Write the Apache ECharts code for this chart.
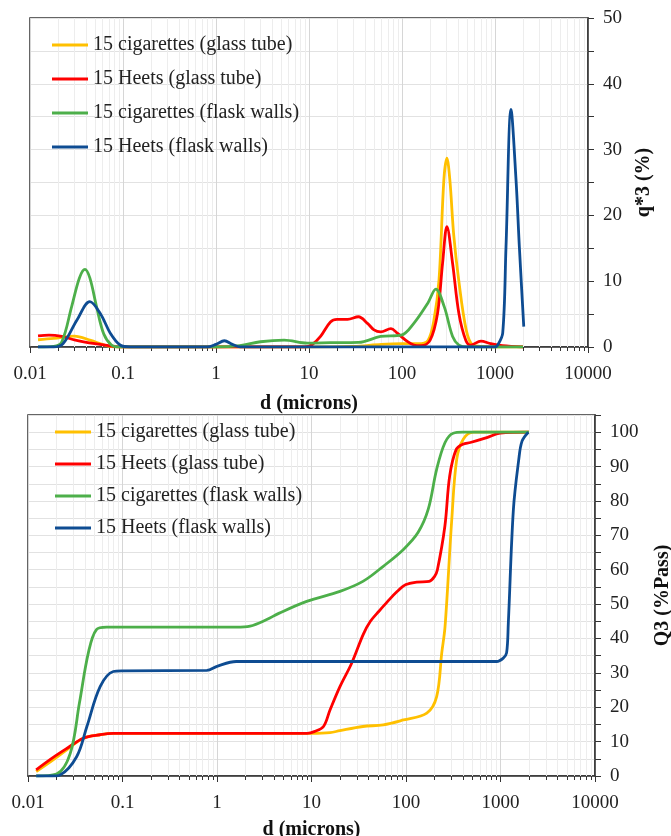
<!DOCTYPE html>
<html>
<head>
<meta charset="utf-8">
<script src="https://cdn.jsdelivr.net/npm/echarts@6/dist/echarts.min.js"></script>
<style>
  html, body { margin: 0; padding: 0; background: #fff; }
  #chart { width: 671px; height: 836px; }
</style>
</head>
<body>
<div id="chart"></div>
<script>
// series names + colours
var seriesNames = [
  "15 cigarettes (glass tube)",
  "15 Heets (glass tube)",
  "15 cigarettes (flask walls)",
  "15 Heets (flask walls)"
];
var seriesColors = ["#FFC000", "#FF0000", "#4DAF4A", "#0E4C92"];

// top chart: q*3 (%) vs d (microns)
var cigGlassDens = [
  [0.0122, 1.1], [0.018, 1.3], [0.03, 1.65], [0.045, 1.0], [0.06, 0.4], [0.075, 0.05], [0.1, 0],
  [1, 0], [10, 0], [30, 0.1], [60, 0.4], [100, 0.5], [150, 0.5], [190, 1.0], [220, 4],
  [250, 10.2], [282, 25.4], [304, 28.7], [327, 25.4], [360, 17], [407, 10.2], [490, 2.6],
  [575, 0.3], [700, 0.1], [1000, 0], [2000, 0]
];
var heetsGlassDens = [
  [0.0122, 1.7], [0.016, 1.8], [0.022, 1.6], [0.03, 1.1], [0.05, 0.5], [0.07, 0.2], [0.1, 0],
  [1, 0], [9, 0], [10.7, 0.3], [13.3, 1.6], [17, 3.8], [20, 4.2], [26, 4.2], [34, 4.6],
  [42.5, 3.6], [50, 2.6], [59, 2.3], [76, 2.8], [89, 2.1], [115, 0.8], [134, 0.3], [160, 0.2],
  [200, 1.0], [241, 5.1], [273, 12.7], [304, 18.3], [350, 12.7], [409, 5.1], [486, 1.0],
  [550, 0.3], [705, 0.9], [900, 0.5], [1200, 0.2], [2000, 0]
];
var cigFlaskDens = [
  [0.0122, 0], [0.018, 0.1], [0.022, 0.8], [0.028, 6.1], [0.034, 10.5], [0.039, 11.8],
  [0.044, 10.5], [0.052, 6.1], [0.062, 2.0], [0.075, 0.3], [0.09, 0], [1, 0], [1.8, 0.2],
  [3, 0.8], [5.4, 1.05], [9.6, 0.6], [17, 0.65], [34, 0.7], [59, 1.6], [98, 1.8], [134, 3.6],
  [190, 6.7], [231, 8.8], [285, 6.1], [350, 1.6], [409, 0.3], [500, 0], [2000, 0]
];
var heetsFlaskDens = [
  [0.0122, 0], [0.018, 0], [0.0227, 0.5], [0.032, 4.1], [0.044, 6.9], [0.057, 5.1],
  [0.073, 2.1], [0.093, 0.3], [0.12, 0], [0.8, 0], [1.0, 0.4], [1.23, 0.95], [1.5, 0.4],
  [1.83, 0], [1000, 0], [1070, 0.3], [1210, 2.1], [1313, 15.2], [1486, 36.1], [1683, 25.4],
  [1828, 15.2], [2038, 3.1]
];

// bottom chart: Q3 (%Pass) vs d (microns)
var cigGlassCum = [
  [0.0122, 1.3], [0.018, 4.5], [0.0257, 7.6], [0.0385, 11.0], [0.058, 12.0], [0.08, 12.4],
  [1, 12.4], [10, 12.4], [15.7, 12.6], [20, 13.2], [35, 14.4], [57.5, 14.9], [94, 16.3],
  [166, 18.3], [211, 23.1], [239, 35.8], [259, 43.5], [305, 74.6], [344, 92.1], [405, 98],
  [517, 100], [2000, 100]
];
var heetsGlassCum = [
  [0.0122, 1.8], [0.018, 5.2], [0.0257, 8.0], [0.0385, 11.0], [0.058, 12.0], [0.08, 12.4],
  [1, 12.4], [9, 12.4], [10.7, 12.9], [13.4, 14.4], [15.7, 19.2], [20, 26], [26.6, 32.8],
  [35.3, 41.2], [42, 45.0], [52, 48.0], [64, 50.8], [80, 53.6], [100, 55.7], [130, 56.4],
  [176, 56.6], [200, 58], [215, 60], [258, 72.7], [290, 87.3], [340, 95], [400, 96.5],
  [480, 97], [716, 98.4], [993, 99.7], [2000, 100]
];
var cigFlaskCum = [
  [0.0122, 0], [0.02, 0.6], [0.028, 6.6], [0.035, 21.2], [0.0435, 35.8], [0.053, 42.6],
  [0.068, 43.3], [1, 43.3], [1.6, 43.3], [2.24, 43.6], [3.36, 45.5], [4.5, 47.3], [8.9, 50.8],
  [20, 53.7], [35, 56.6], [57.5, 61], [94, 65.9], [134, 70.8], [172, 77.6], [211, 89.2],
  [259, 97], [316, 99.7], [400, 100], [2000, 100]
];
var heetsFlaskCum = [
  [0.0122, 0], [0.018, 0], [0.0218, 0.3], [0.0327, 5.6], [0.042, 14.4], [0.058, 26],
  [0.08, 30.4], [0.1, 30.6], [0.78, 30.7], [1.0, 31.9], [1.6, 33.3], [100, 33.3], [912, 33.3],
  [1070, 34.3], [1160, 35.8], [1210, 44.5], [1370, 77.6], [1560, 92], [1690, 97.4], [1970, 100]
];

// minor log ticks 2..9 in each decade
var minorTicks = [];
[0.01, 0.1, 1, 10, 100, 1000].forEach(function (dec) {
  for (var k = 2; k <= 9; k++) minorTicks.push(+(dec * k).toPrecision(3));
});

var FONT = "Liberation Serif";
var chartDom = document.getElementById("chart");
var myChart = echarts.init(chartDom);

function fmtLog(v) {
  return String(+(+v).toPrecision(3));
}

function xAxisCfg(gridIndex, gap) {
  return {
    type: "log",
    logBase: 10,
    gridIndex: gridIndex,
    min: 0.01,
    max: 10000,
    name: "d (microns)",
    nameLocation: "middle",
    nameGap: gap,
    nameTextStyle: { fontFamily: FONT, fontSize: 20, fontWeight: "bold", color: "#111" },
    axisLine: { lineStyle: { color: "#333", width: 1.5 } },
    axisTick: { show: true, length: 6, lineStyle: { color: "#333" } },
    axisLabel: {
      fontFamily: FONT, fontSize: 19, color: "#222", margin: 18,
      formatter: fmtLog, hideOverlap: false
    },
    splitLine: { show: true, lineStyle: { color: "#d6d6d6", width: 1 } },
    minorTick: { show: false },
    minorSplitLine: { show: false }
  };
}

function yAxisCfg(gridIndex, max, name, gap) {
  return {
    type: "value",
    gridIndex: gridIndex,
    position: "right",
    min: 0,
    max: max,
    interval: 5,
    name: name,
    nameLocation: "middle",
    nameRotate: 90,
    nameGap: gap,
    nameTextStyle: { fontFamily: FONT, fontSize: 20, fontWeight: "bold", color: "#111" },
    axisLine: { show: true, lineStyle: { color: "#333", width: 1.5 } },
    axisTick: { show: true, length: 6, lineStyle: { color: "#333" } },
    axisLabel: {
      fontFamily: FONT, fontSize: 19, color: "#222", margin: 15,
      formatter: function (v) { return v % 10 === 0 && v <= 100 ? String(v) : ""; }
    },
    splitLine: { show: true, lineStyle: { color: "#e2e2e2", width: 1 } }
  };
}

// minor vertical gridlines + small ticks at 2..9 of each decade
function minorSeries(idx, yMax) {
  return {
    type: "custom",
    xAxisIndex: idx,
    yAxisIndex: idx,
    silent: true,
    z: 1,
    data: minorTicks.map(function (v) { return [v, 0]; }),
    renderItem: function (params, api) {
      var p0 = api.coord([api.value(0), 0]);
      var p1 = api.coord([api.value(0), yMax]);
      var x = Math.round(p0[0]) + 0.5;
      return {
        type: "group",
        children: [
          { type: "line", shape: { x1: x, y1: p1[1], x2: x, y2: p0[1] },
            style: { stroke: "#ededed", lineWidth: 1 } },
          { type: "line", shape: { x1: x, y1: p0[1], x2: x, y2: p0[1] + 4 },
            style: { stroke: "#333", lineWidth: 1 } }
        ]
      };
    }
  };
}

var topData = [cigGlassDens, heetsGlassDens, cigFlaskDens, heetsFlaskDens];
var bottomData = [cigGlassCum, heetsGlassCum, cigFlaskCum, heetsFlaskCum];

var series = [minorSeries(0, 50), minorSeries(1, 105)];
topData.forEach(function (d, i) {
  series.push({
    name: seriesNames[i], type: "line", xAxisIndex: 0, yAxisIndex: 0,
    data: d, smooth: 0.35, showSymbol: false, z: 3,
    lineStyle: { color: seriesColors[i], width: 2.8 },
    itemStyle: { color: seriesColors[i] }
  });
});
bottomData.forEach(function (d, i) {
  series.push({
    name: seriesNames[i], type: "line", xAxisIndex: 1, yAxisIndex: 1,
    data: d, smooth: 0.35, showSymbol: false, z: 3,
    lineStyle: { color: seriesColors[i], width: 2.8 },
    itemStyle: { color: seriesColors[i] }
  });
});

function legendCfg(top, left, gap) {
  return {
    data: seriesNames,
    orient: "vertical",
    top: top,
    left: left,
    padding: 0,
    itemWidth: 36,
    itemHeight: 3,
    itemGap: gap,
    icon: "rect",
    textStyle: { fontFamily: FONT, fontSize: 20, color: "#222" }
  };
}

var option = {
  animation: false,
  backgroundColor: "#fff",
  legend: [legendCfg(35, 52, 14), legendCfg(422, 55, 12)],
  grid: [
    { left: 30, right: 83, top: 18, height: 329, show: true, borderColor: "#333", borderWidth: 1.5,
      outerBoundsMode: "none" },
    { left: 28, right: 76, top: 415, height: 361, show: true, borderColor: "#333", borderWidth: 1.5,
      outerBoundsMode: "none" }
  ],
  xAxis: [xAxisCfg(0, 47), xAxisCfg(1, 44)],
  yAxis: [
    yAxisCfg(0, 50, "q*3 (%)", 46),
    yAxisCfg(1, 105, "Q3 (%Pass)", 58)
  ],
  series: series
};

option && myChart.setOption(option);
</script>
</body>
</html>
